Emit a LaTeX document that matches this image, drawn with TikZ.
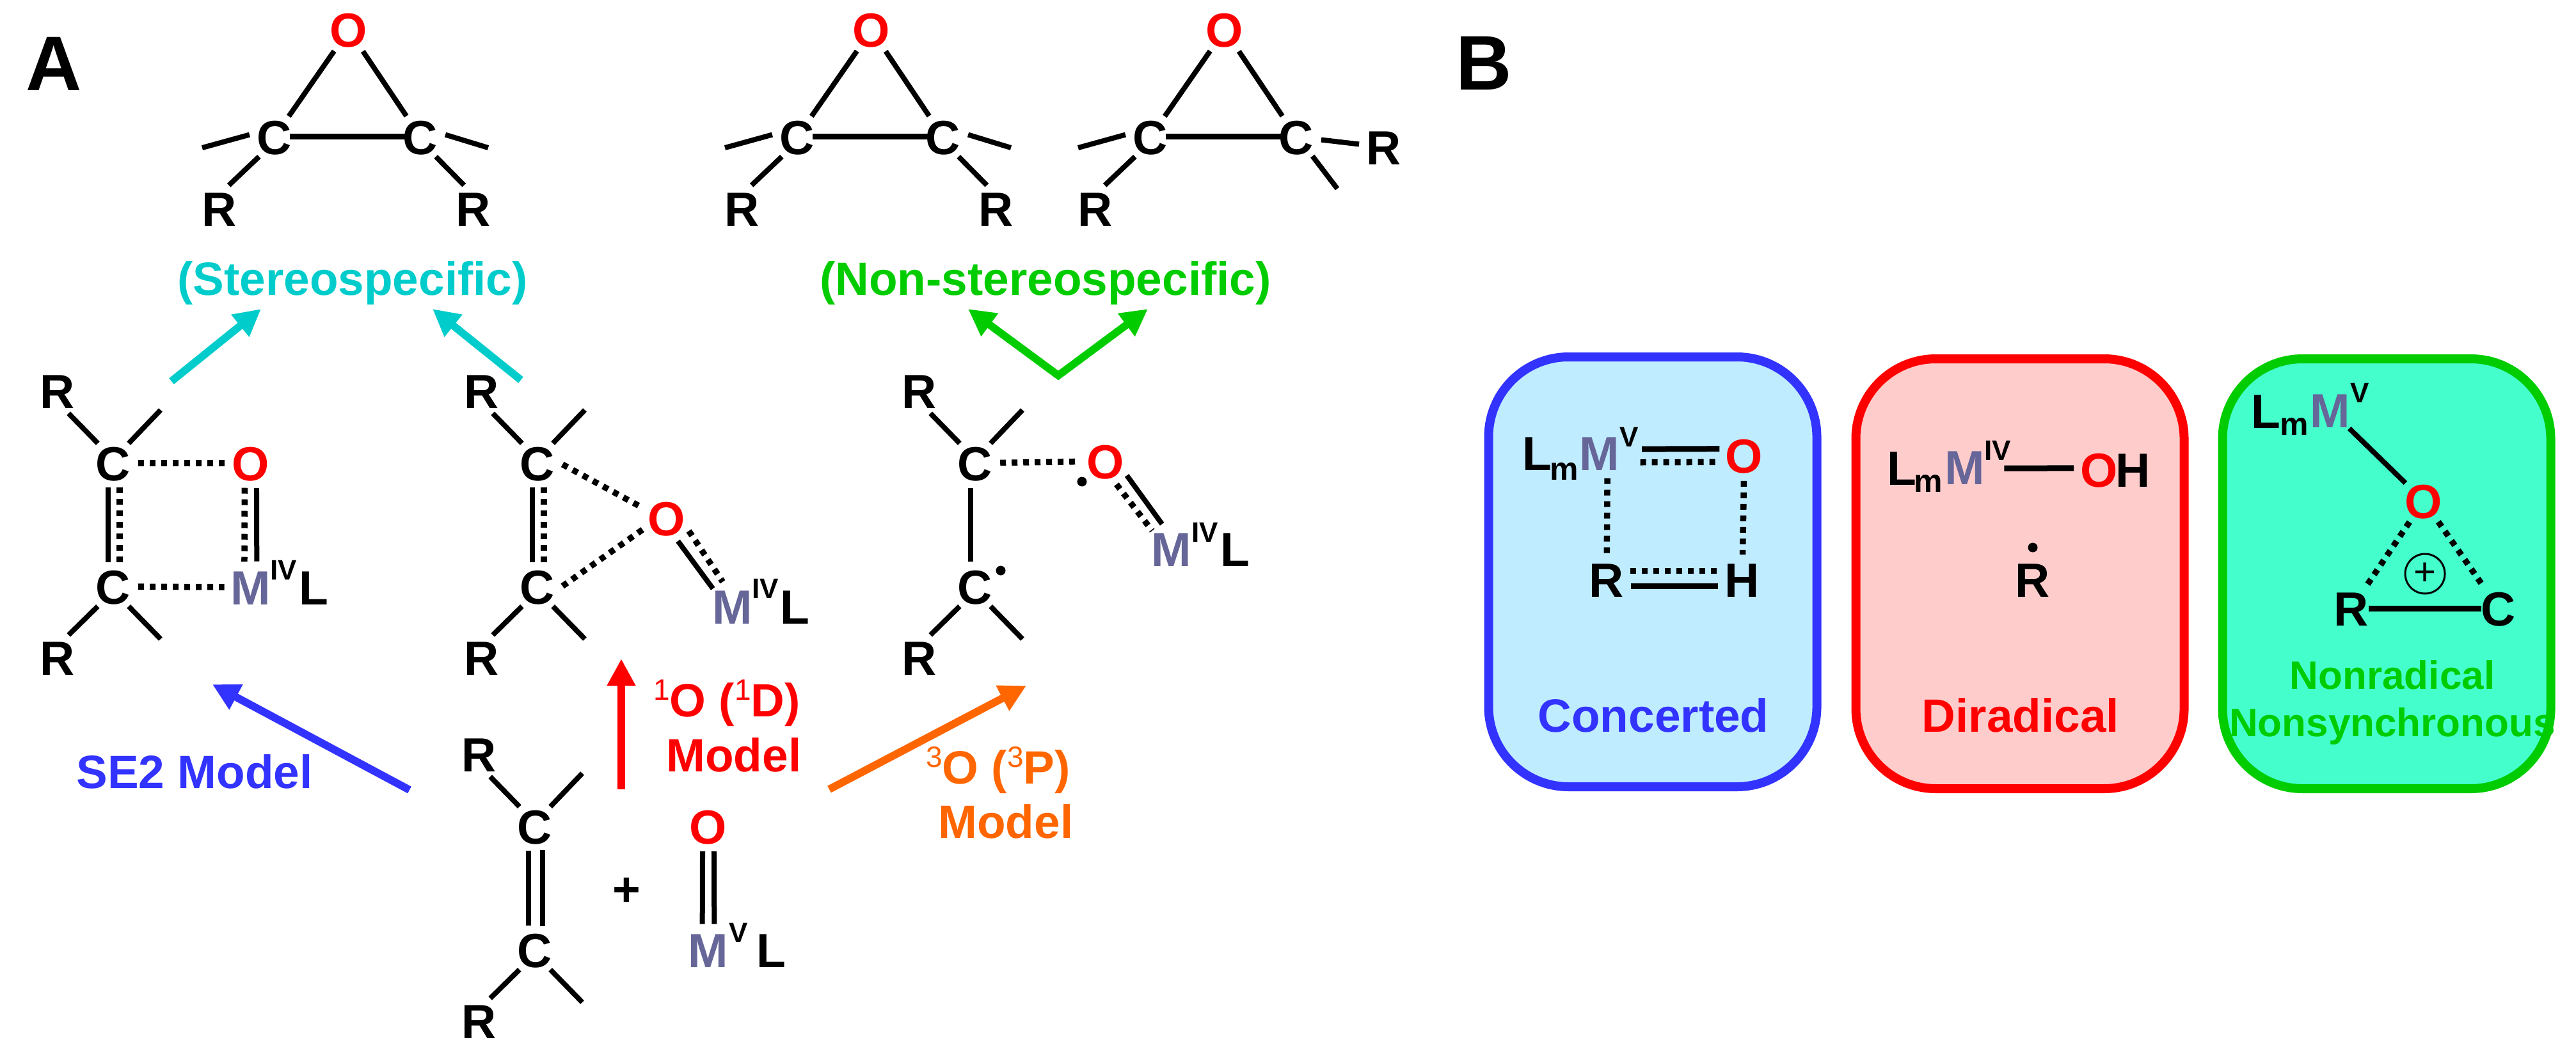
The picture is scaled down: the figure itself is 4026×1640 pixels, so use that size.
\documentclass[tikz,border=0pt]{standalone}
\usepackage{fontspec}
\setmainfont{Liberation Sans}
\usetikzlibrary{arrows.meta}

\definecolor{oxy}{HTML}{FF0000}
\definecolor{metal}{HTML}{666699}
\definecolor{cyanA}{HTML}{00CCCC}
\definecolor{greenA}{HTML}{00CC00}
\definecolor{blueA}{HTML}{3333FF}
\definecolor{orangeA}{HTML}{FF6600}
\definecolor{boxblue}{HTML}{BFECFF}
\definecolor{boxpink}{HTML}{FFCCCC}
\definecolor{boxgreen}{HTML}{44FFCC}

\tikzset{
  atom/.style={circle, inner sep=0pt, minimum size=78pt, text height=54pt, text depth=0pt,
    font=\bfseries\fontsize{75}{80}\selectfont},
  oatom/.style={atom, text=oxy},
  matom/.style={atom, text=metal},
  supr/.style={inner sep=0pt, text height=33pt, text depth=0pt, font=\bfseries\fontsize{44}{50}\selectfont},
  subm/.style={inner sep=0pt, font=\bfseries\fontsize{50}{50}\selectfont},
  lab/.style={inner sep=0pt, text height=54pt, text depth=0pt, font=\bfseries\fontsize{73}{80}\selectfont},
  lab small/.style={lab, font=\bfseries\fontsize{62}{70}\selectfont},
  big/.style={inner sep=0pt, text height=86pt, text depth=0pt, font=\bfseries\fontsize{121}{130}\selectfont},
  dot/.style={circle, fill=black, inner sep=0pt, minimum size=15pt},
  bond/.style={line width=8pt, black},
  hbond/.style={line width=9pt, black},
  dbond/.style={line width=9.5pt, black, dash pattern=on 9pt off 9pt},
  thick arrow/.style={line width=12pt, -{Triangle[length=42pt,width=42pt]}},
  panel/.style={draw, line width=14pt, rounded corners=125pt, minimum width=513pt, minimum height=672pt, inner sep=0pt},
}

\newcommand{\lab}[1]{\raisebox{26pt}{\fontsize{46}{50}\mdseries\selectfont #1}}

% C-C fragment with R groups, top carbon at (x,y)
\newcommand{\alkfrag}[3]{
  \begin{scope}[shift={(#2,#3)}]
    \node[atom] (#1rt) at (-87,-113) {R};
    \node[atom] (#1ct) at (0,0) {C};
    \node[atom] (#1cb) at (0,193) {C};
    \node[atom] (#1rb) at (-87,304) {R};
    \coordinate (#1st) at (74,-83);
    \coordinate (#1sb) at (74,275);
    \draw[bond] (#1rt.-64) -- (#1ct.128);
    \draw[bond] (#1ct.52) -- (#1st);
    \draw[bond] (#1cb.-128) -- (#1rb.64);
    \draw[bond] (#1cb.-52) -- (#1sb);
  \end{scope}
}

% epoxide, left half; #2 is the x shift
\newcommand{\epoxleft}[2]{
  \begin{scope}[shift={(#2,0)}]
    \node[oatom] (#1o) at (545,47) {O};
    \node[atom] (#1cl) at (429,214) {C};
    \node[atom] (#1cr) at (657,214) {C};
    \node[atom] (#1rl) at (343,326) {R};
    \coordinate (#1sl) at (316,231);
    \draw[bond] (#1o) -- (#1cl);
    \draw[bond] (#1o) -- (#1cr);
    \draw[hbond, shorten <=-15pt, shorten >=-15pt] (#1cl) -- (#1cr);
    \draw[bond] (#1cl.175) -- (#1sl);
    \draw[bond] (#1cl.-128) -- (#1rl.68);
  \end{scope}
}

\begin{document}
\begin{tikzpicture}[x=1pt, y=-1pt]
\useasboundingbox (0,0) rectangle (4026,1640);

% panel letters
\node[big] (la) at (84,99) {A};
\node[big] (lb) at (2319,98) {B};

% epoxides
\epoxleft{ea}{0}
\node[atom] (earr) at (740,326) {R};
\coordinate (eas) at (763,231);
\draw[bond] (eacr.-52) -- (earr.112);
\draw[bond] (eacr.5) -- (eas);

\epoxleft{eb}{817}
\node[atom] (ebrr) at (1557,326) {R};
\coordinate (ebs) at (1580,231);
\draw[bond] (ebcr.-52) -- (ebrr.112);
\draw[bond] (ebcr.5) -- (ebs);

\epoxleft{ec}{1369}
\node[atom] (ecrr) at (2163,230) {R};
\coordinate (ecs) at (2090,295);
\draw[bond] (eccr) -- (ecrr);
\draw[bond] (eccr.-50) -- (ecs);

% selectivity labels
\node[lab, text=cyanA] (stereo) at (551,434) {(Stereospecific)};
\node[lab, text=greenA] (nonstereo) at (1634,434) {(Non-stereospecific)};

\coordinate (ca1) at (268,596);
\coordinate (ca2) at (408,483);
\coordinate (cb1) at (814,594);
\coordinate (cb2) at (676,483);
\draw[thick arrow, cyanA] (ca1) -- (ca2);
\draw[thick arrow, cyanA] (cb1) -- (cb2);

\coordinate (gl) at (1513,483);
\coordinate (gv) at (1654,587);
\coordinate (gr) at (1794,483);
\draw[line width=12pt, greenA, miter limit=10, {Triangle[length=42pt,width=42pt]}-{Triangle[length=42pt,width=42pt]}] (gl) -- (gv) -- (gr);

% SE2 intermediate
\alkfrag{s}{177}{724}
\node[oatom] (so) at (392,724) {O};
\node[matom] (sm) at (392,918) {M};
\node[supr] (siv) at (443,890) {IV};
\node[atom] (sl) at (490,918) {L};
\draw[bond] (sct.-102) -- (scb.102);
\draw[dbond] (sct.-75) -- (scb.75);
\draw[dbond] (sct) -- (so);
\draw[dbond] (scb) -- (sm);
\draw[dbond] (so.-104) -- (sm.104);
\draw[bond] (so.-77) -- (sm.77);

% singlet intermediate
\alkfrag{t}{840}{724}
\node[oatom] (to) at (1042,810) {O};
\node[matom] (tm) at (1145,948) {M};
\node[supr] (tiv) at (1196,919) {IV};
\node[atom] (tl) at (1242,948) {L};
\draw[bond] (tct.-102) -- (tcb.102);
\draw[dbond] (tct.-75) -- (tcb.75);
\draw[dbond] (tct.-3) -- (to.157);
\draw[dbond] (tcb.1) -- (to.205);
\draw[bond] (to.-64) -- (tm.138);
\draw[dbond] (to.-30) -- (tm.112);

% triplet intermediate
\alkfrag{u}{1524}{724}
\node[oatom] (uo) at (1728,721) {O};
\node[matom] (um) at (1831,858) {M};
\node[supr] (uiv) at (1883,831) {IV};
\node[atom] (ul) at (1930,858) {L};
\node[dot] (ud1) at (1691,753) {};
\node[dot] (ud2) at (1564,892) {};
\draw[bond] (uct.-100) -- (ucb.100);
\draw[dbond] (uct) -- (uo);
\draw[bond] (uo.-34) -- (um.111);
\draw[dbond] (uo.-65) -- (um.137);

% reactants
\alkfrag{r}{836}{1292}
\draw[bond] (rct.-105) -- (rcb.105);
\draw[bond] (rct.-72) -- (rcb.72);
\node[atom] (plus) at (979,1389) {+};
\node[oatom] (ro) at (1107,1292) {O};
\node[matom] (rm) at (1107,1485) {M};
\node[supr] (rv) at (1154,1457) {V};
\node[atom] (rl) at (1205,1485) {L};
\draw[bond] (ro.-103) -- (rm.103);
\draw[bond] (ro.-77) -- (rm.77);

% model arrows
\coordinate (ba1) at (640,1235);
\coordinate (ba2) at (332,1070);
\draw[thick arrow, blueA] (ba1) -- (ba2);
\node[lab, text=blueA] (se2) at (304,1205) {SE2 Model};

\coordinate (ra1) at (971,1234);
\coordinate (ra2) at (971,1030);
\draw[thick arrow, oxy] (ra1) -- (ra2);
\node[lab, text=oxy] (sing) at (1136,1093) {\lab{1}O (\lab{1}D)};
\node[lab, text=oxy] (singm) at (1147,1179) {Model};

\coordinate (oa1) at (1296,1234);
\coordinate (oa2) at (1604,1072);
\draw[thick arrow, orangeA] (oa1) -- (oa2);
\node[lab, text=orangeA] (trip) at (1560,1198) {\lab{3}O (\lab{3}P)};
\node[lab, text=orangeA] (tripm) at (1572,1283) {Model};

% panel B: boxes
\node[panel, draw=blueA, fill=boxblue] (bx1) at (2583,894) {};
\node[panel, draw=oxy, fill=boxpink] (bx2) at (3157,897) {};
\node[panel, draw=greenA, fill=boxgreen] (bx3) at (3730,897) {};

% concerted
\node[atom] (al) at (2402,708) {L};
\node[subm] (am) at (2445,737) {m};
\node[matom] (amm) at (2500,708) {M};
\node[supr] (av) at (2546,682) {V};
\node[oatom] (ao) at (2726,712) {O};
\node[atom] (ar) at (2511,906) {R};
\node[atom] (ah) at (2723,906) {H};
\draw[hbond, shorten <=25pt] (amm.8) -- (ao.165);
\draw[dbond, shorten <=25pt] (amm.-21) -- (ao.195);
\draw[dbond] (amm.-73) -- (ar);
\draw[dbond] (ao) -- (ah);
\draw[dbond] (ar.20) -- (ah.160);
\draw[hbond] (ar.-15) -- (ah.-165);
\node[lab, text=blueA] (con) at (2584,1117) {Concerted};

% diradical
\node[atom] (dl) at (2972,731) {L};
\node[subm] (dm) at (3014,756) {m};
\node[matom] (dmm) at (3071,730) {M};
\node[supr] (div) at (3122,703) {IV};
\node[oatom] (do) at (3281,734) {O};
\node[atom] (dh) at (3334,734) {H};
\node[atom] (dr) at (3177,906) {R};
\node[dot] (dd) at (3177,856) {};
\draw[hbond, shorten <=20pt] (dmm.-3) -- (do.177);
\node[lab, text=oxy] (dir) at (3158,1117) {Diradical};

% nonsynchronous
\node[atom] (nl) at (3541,642) {L};
\node[subm] (nm) at (3586,667) {m};
\node[matom] (nmm) at (3642,641) {M};
\node[supr] (nv) at (3688,613) {V};
\node[oatom] (no) at (3788,783) {O};
\node[atom] (nr) at (3675,951) {R};
\node[atom] (nc) at (3905,951) {C};
\node[circle, draw, line width=3pt, minimum size=62pt, inner sep=0pt, font=\fontsize{60}{60}\selectfont] (npl) at (3790,897) {+};
\draw[bond] (nmm) -- (no);
\draw[dbond] (no) -- (nr);
\draw[dbond] (no) -- (nc);
\draw[hbond, shorten <=-12pt, shorten >=-12pt] (nr) -- (nc);
\node[lab small, text=greenA] (nt1) at (3739,1050) {Nonradical};
\node[lab small, text=greenA] (nt2) at (3739,1124) {Nonsynchronous};
\end{tikzpicture}
\end{document}
